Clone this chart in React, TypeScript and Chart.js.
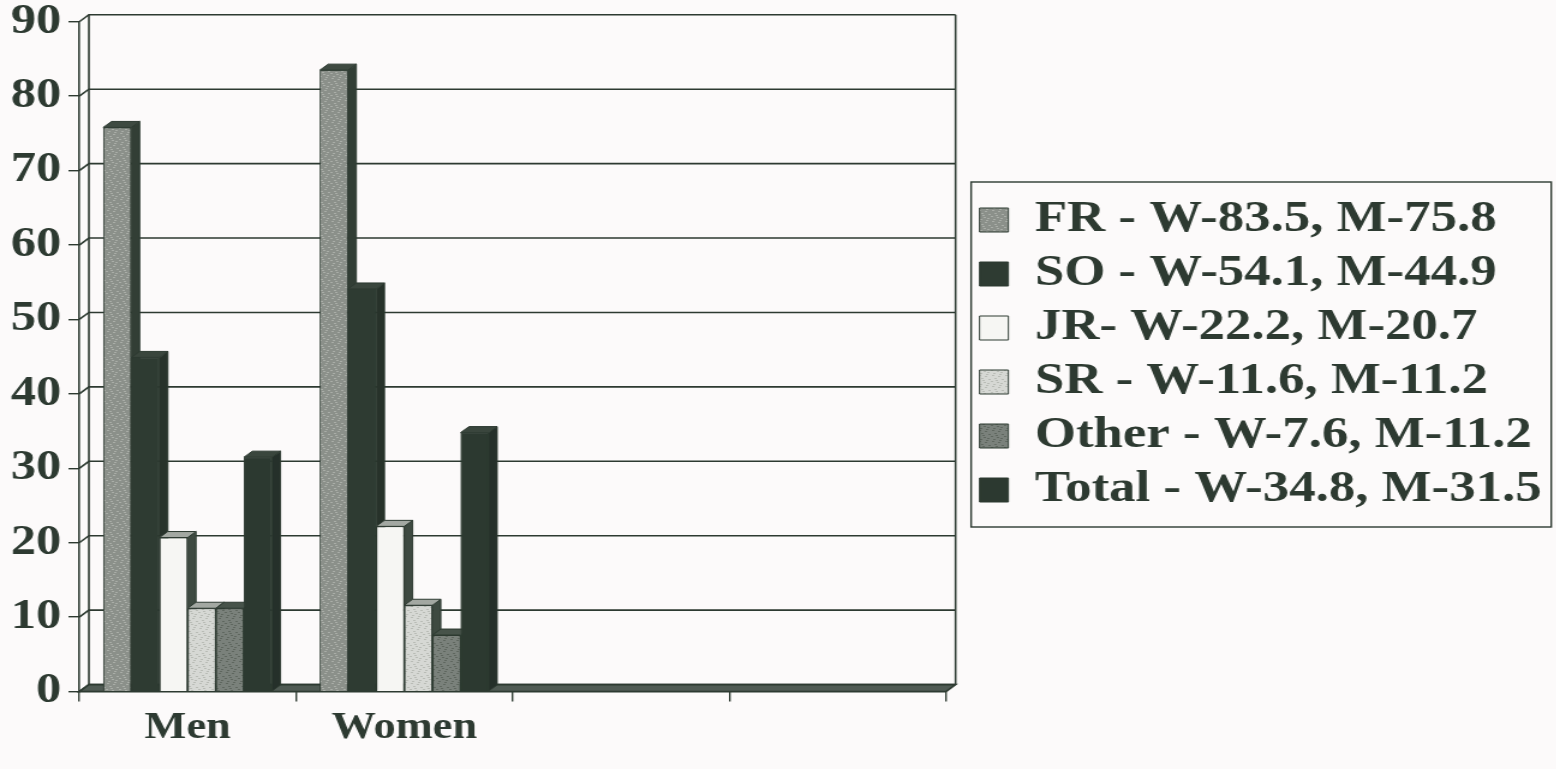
import React, { useEffect, useRef } from 'react';
import { Chart, registerables } from 'chart.js';

Chart.register(...registerables);

// ---- data ----
const categories = ['Men', 'Women', '', ''];
const seriesLabels = [
  'FR - W-83.5, M-75.8',
  'SO - W-54.1, M-44.9',
  'JR- W-22.2, M-20.7',
  'SR - W-11.6, M-11.2',
  'Other - W-7.6, M-11.2',
  'Total - W-34.8, M-31.5',
];
const frValues = [75.8, 83.5];
const soValues = [44.9, 54.1];
const jrValues = [20.7, 22.2];
const srValues = [11.2, 11.6];
const otherValues = [11.2, 7.6];
const totalValues = [31.5, 34.8];
const yMin = 0;
const yMax = 90;
const yStep = 10;

// ---- style ----
const S = 1.2; // horizontal stretch of the scanned original
const W = 1556;
const H = 769;
const INK = '#2d3a31';
const BG = '#fcfafa';
const FONT = "'Liberation Serif', 'Times New Roman', serif";
const fills = ['#8b908a', '#2e3b32', '#f6f6f3', '#d6d8d4', '#7a817b', '#2c3930'];
const speckleDots = ['#a9ada7', null, null, '#b9bcb6', '#5f675f', null];
const tops = ['#3e4a41', '#3a463d', '#a3a8a2', '#a3a8a2', '#47534a', '#3a463d'];
const sides = ['#323e35', '#27322a', '#3e4a41', '#3e4a41', '#323e35', '#25302a'];
const WALL_DX = 8;
const WALL_DY = 7;
const BAR_DX = 7;
const BAR_DY = 6;
// fixed texture positions inside an 11x11 tile (scanned halftone look)
const TILE = 11;
const DOTS: [number, number][] = [
  [1, 1], [6, 2], [9, 5], [3, 4], [0, 7], [5, 8], [8, 9], [2, 10], [7, 0], [4, 6],
];

function fillFor(i: number): any {
  const dot = speckleDots[i];
  if (!dot || typeof document === 'undefined') return fills[i];
  const c = document.createElement('canvas');
  c.width = TILE;
  c.height = TILE;
  const g = c.getContext('2d');
  if (!g) return fills[i];
  g.fillStyle = fills[i];
  g.fillRect(0, 0, TILE, TILE);
  g.fillStyle = dot;
  DOTS.forEach(([x, y]) => g.fillRect(x, y, 2, 1));
  const p = g.createPattern(c, 'repeat');
  return p || fills[i];
}

const threeD = {
  id: 'threeD',
  beforeDatasetsDraw(chart: any) {
    const { ctx, chartArea: a, scales } = chart;
    const y = scales.y;
    ctx.save();
    ctx.strokeStyle = INK;
    ctx.lineWidth = 1.6;
    y.ticks.forEach((t: any) => {
      const py = y.getPixelForValue(t.value);
      ctx.beginPath();
      ctx.moveTo(a.left, py);
      ctx.lineTo(a.left + WALL_DX, py - WALL_DY);
      ctx.lineTo(a.right + WALL_DX, py - WALL_DY);
      ctx.stroke();
    });
    const topY = y.getPixelForValue(yMax);
    const botY = y.getPixelForValue(yMin);
    ctx.beginPath();
    ctx.moveTo(a.left + WALL_DX, topY - WALL_DY);
    ctx.lineTo(a.left + WALL_DX, botY - WALL_DY);
    ctx.moveTo(a.right + WALL_DX, topY - WALL_DY);
    ctx.lineTo(a.right + WALL_DX, botY - WALL_DY);
    ctx.stroke();
    // floor
    ctx.beginPath();
    ctx.moveTo(a.left, botY);
    ctx.lineTo(a.right, botY);
    ctx.lineTo(a.right + WALL_DX, botY - WALL_DY);
    ctx.lineTo(a.left + WALL_DX, botY - WALL_DY);
    ctx.closePath();
    ctx.fillStyle = '#4f5a53';
    ctx.fill();
    ctx.stroke();
    ctx.restore();
  },
  afterDatasetsDraw(chart: any) {
    const { ctx } = chart;
    const n = chart.data.datasets.length;
    ctx.save();
    for (let i = 0; i < n; i++) {
      const meta = chart.getDatasetMeta(i);
      meta.data.forEach((el: any) => {
        if (el.skip) return;
        const { x, y, base, width } = el.getProps(['x', 'y', 'base', 'width'], true);
        if (x == null || isNaN(y)) return;
        const l = x - width / 2;
        const r = x + width / 2;
        ctx.strokeStyle = INK;
        ctx.lineWidth = 1;
        // side face
        ctx.beginPath();
        ctx.moveTo(r, y);
        ctx.lineTo(r + BAR_DX, y - BAR_DY);
        ctx.lineTo(r + BAR_DX, base - BAR_DY);
        ctx.lineTo(r, base);
        ctx.closePath();
        ctx.fillStyle = sides[i];
        ctx.fill();
        ctx.stroke();
        // top face
        ctx.beginPath();
        ctx.moveTo(l, y);
        ctx.lineTo(l + BAR_DX, y - BAR_DY);
        ctx.lineTo(r + BAR_DX, y - BAR_DY);
        ctx.lineTo(r, y);
        ctx.closePath();
        ctx.fillStyle = tops[i];
        ctx.fill();
        ctx.stroke();
        // front face, redrawn by the element itself so later series sit in front
        el.draw(ctx);
      });
    }
    ctx.restore();
  },
  afterDraw(chart: any) {
    const lg = chart.legend;
    if (!lg || !lg.legendHitBoxes || !lg.legendHitBoxes.length) return;
    const boxes = lg.legendHitBoxes;
    const t = Math.min(...boxes.map((b: any) => b.top));
    const b = Math.max(...boxes.map((bx: any) => bx.top + bx.height));
    const l = Math.min(...boxes.map((bx: any) => bx.left));
    const { ctx } = chart;
    ctx.save();
    ctx.strokeStyle = INK;
    ctx.lineWidth = 1.4;
    ctx.strokeRect(l - 7, t - 16, lg.right - 2 - (l - 7), b - t + 31);
    ctx.restore();
  },
};

export default function App() {
  const ref = useRef<HTMLCanvasElement | null>(null);

  useEffect(() => {
    if (!ref.current) return;
    const seriesValues = [frValues, soValues, jrValues, srValues, otherValues, totalValues];
    const chart = new Chart(ref.current, {
      type: 'bar',
      data: {
        labels: categories,
        datasets: seriesValues.map((vals, i) => ({
          label: seriesLabels[i],
          data: vals,
          backgroundColor: fillFor(i),
          borderColor: INK,
          borderWidth: 1,
          categoryPercentage: 0.78,
          barPercentage: 1.0,
        })),
      },
      options: {
        responsive: true,
        maintainAspectRatio: false,
        animation: false,
        layout: { padding: { left: 3, right: 3, top: 17, bottom: 13 } },
        plugins: {
          legend: {
            position: 'right',
            align: 'start',
            maxWidth: 700,
            title: { display: true, text: '', padding: { top: 159, bottom: 0 }, font: { size: 10 } },
            labels: {
              color: INK,
              font: { family: FONT, size: 44, weight: 'bold' },
              boxWidth: 24,
              boxHeight: 24,
              padding: 10,
            },
          },
          tooltip: { enabled: false },
        },
        scales: {
          x: {
            grid: {
              display: true,
              drawOnChartArea: false,
              drawTicks: true,
              tickLength: 10,
              color: INK,
              lineWidth: 1.4,
              offset: true,
            },
            border: { display: false },
            ticks: {
              color: INK,
              font: { family: FONT, size: 37, weight: 'bold' },
              padding: 5,
              maxRotation: 0,
              autoSkip: false,
            },
          },
          y: {
            min: yMin,
            max: yMax,
            grid: {
              display: true,
              drawOnChartArea: false,
              drawTicks: true,
              tickLength: 9,
              color: INK,
              lineWidth: 1.4,
            },
            border: { display: true, color: INK, width: 1.6 },
            ticks: {
              stepSize: yStep,
              color: INK,
              font: { family: FONT, size: 42, weight: 'bold', lineHeight: 0.75 },
              padding: 6,
            },
          },
          gap: {
            type: 'linear',
            position: 'right',
            display: true,
            grid: { display: false, drawTicks: false },
            border: { display: false },
            ticks: { display: false },
            afterFit: (s: any) => {
              s.width = 18;
            },
          },
        },
      },
      plugins: [threeD],
    } as any);
    return () => chart.destroy();
  }, []);

  return (
    <div style={{ position: 'absolute', left: 0, top: 0, width: W, height: H, background: BG, overflow: 'hidden' }}>
      <div style={{ width: W / S, height: H, transform: `scaleX(${S})`, transformOrigin: '0 0' }}>
        <canvas ref={ref} />
      </div>
    </div>
  );
}
